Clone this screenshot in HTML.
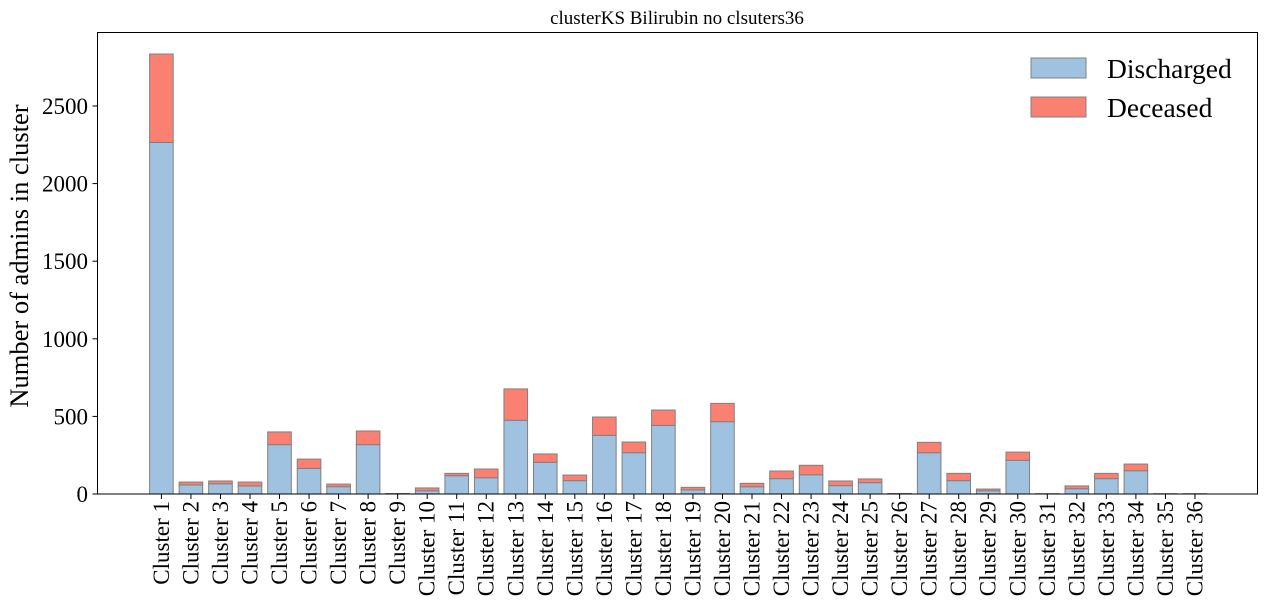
<!DOCTYPE html>
<html><head><meta charset="utf-8"><style>
body{margin:0;background:#fff;}
svg{display:block;font-family:"Liberation Serif",serif;}
</style></head><body>
<svg id="chart" width="1269" height="612" xmlns="http://www.w3.org/2000/svg">
<text x="677" y="24" font-size="19" text-anchor="middle">clusterKS Bilirubin no clsuters36</text>
<text transform="translate(28,256) rotate(-90)" font-size="26.5" text-anchor="middle">Number of admins in cluster</text>
<g id="bars"></g>
<g id="yaxis"></g>
<g id="xaxis"></g>
<rect x="97.5" y="32.5" width="1160" height="461.5" fill="none" stroke="#000" stroke-width="1"/>
<g>
<g>
<rect x="1031" y="58" width="55" height="20" fill="#9fc2e0" stroke="#808080"/>
<text x="1107" y="78" font-size="27.5">Discharged</text></g>
<g>
<rect x="1031" y="97" width="55" height="20" fill="#fa8072" stroke="#808080"/>
<text x="1107" y="117" font-size="27.5">Deceased</text></g>
</g>
</svg>
<script>
const categories = Array.from({length:36},(_,i)=>'Cluster '+(i+1));
const discharged = [2265,58,66,52,318,165,47,318,2,21,118,105,475,204,86,378,266,442,26,466,47,99,124,54,73,2,266,86,21,217,2,34,99,150,2,2];
const deceased = [570,19,18,25,82,60,17,88,1,18,15,56,202,54,36,118,69,99,17,118,22,49,61,30,24,1,67,47,11,53,0,18,34,43,0,0];
const yTicks = [0,500,1000,1500,2000,2500];

const svg=document.getElementById('chart');
const NS='http://www.w3.org/2000/svg';
const x0=161.4, step=29.53, bw=23.6;
const yBase=494, k=0.1552;
const xScale=i=>x0+i*step;
const yScale=v=>yBase-v*k;
function mk(tag,attrs,parent){const e=document.createElementNS(NS,tag);for(const a in attrs)e.setAttribute(a,attrs[a]);parent.appendChild(e);return e;}
const bars=document.getElementById('bars');
categories.forEach((c,i)=>{
  const d=discharged[i], dc=deceased[i];
  const r1=mk('rect',{x:xScale(i)-bw/2,y:yScale(d),width:bw,height:d*k,fill:'#9fc2e0',stroke:'#808080','stroke-width':1},bars);
  
  
  const r2=mk('rect',{x:xScale(i)-bw/2,y:yScale(d+dc),width:bw,height:dc*k,fill:'#fa8072',stroke:'#808080','stroke-width':1},bars);
  
  
});
const ya=document.getElementById('yaxis');
yTicks.forEach(t=>{
  const y=yScale(t);
  const l=mk('line',{x1:92.5,x2:97.5,y1:y,y2:y,stroke:'#000'},ya);
  
  
  const tx=mk('text',{x:88,y:y+8,'font-size':23,'text-anchor':'end'},ya);
  tx.textContent=t;
  
  
});
const xa=document.getElementById('xaxis');
categories.forEach((c,i)=>{
  const x=xScale(i);
  const l=mk('line',{x1:x,x2:x,y1:494,y2:499,stroke:'#000'},xa);
  
  
  const tx=mk('text',{transform:'translate('+(x+7.5)+',501) rotate(-90)','font-size':23,'text-anchor':'end'},xa);
  tx.textContent=c;
  
  
});
</script>
</body></html>
